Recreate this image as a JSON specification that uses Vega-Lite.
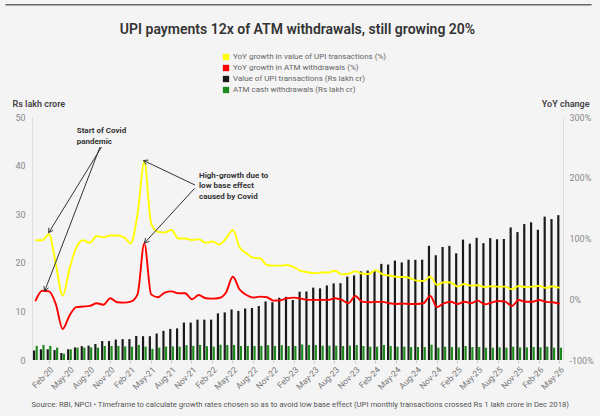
{
  "$schema": "https://vega.github.io/schema/vega-lite/v6.json",
  "width": 531,
  "height": 243,
  "autosize": {"type": "none"},
  "padding": {"left": 32, "top": 117, "right": 37, "bottom": 56},
  "background": "#f4f4f4",
  "title": {"text": "UPI payments 12x of ATM withdrawals, still growing 20%", "anchor": "middle", "frame": "group", "fontSize": 14, "font": "Roboto", "fontWeight": 600, "color": "#333333", "offset": -33},
  "config": {"view": {"stroke": null}, "font": "Roboto", "axis": {"grid": false}},
  "datasets": {
    "months": [
      {"m": "Dec-19", "upi": 1.95, "atm": 2.9, "upiYoY": 97, "atmYoY": -3},
      {"m": "Jan-20", "upi": 2.2, "atm": 3.1, "upiYoY": 97, "atmYoY": 14},
      {"m": "Feb-20", "upi": 2.2, "atm": 2.9, "upiYoY": 107, "atmYoY": 13},
      {"m": "Mar-20", "upi": 2.06, "atm": 2.55, "upiYoY": 58, "atmYoY": -8},
      {"m": "Apr-20", "upi": 1.45, "atm": 1.3, "upiYoY": 6, "atmYoY": -49},
      {"m": "May-20", "upi": 2.2, "atm": 2.2, "upiYoY": 50, "atmYoY": -27},
      {"m": "Jun-20", "upi": 2.6, "atm": 2.55, "upiYoY": 85, "atmYoY": -13},
      {"m": "Jul-20", "upi": 2.85, "atm": 2.55, "upiYoY": 97, "atmYoY": -12},
      {"m": "Aug-20", "upi": 2.95, "atm": 2.6, "upiYoY": 93, "atmYoY": -11},
      {"m": "Sep-20", "upi": 3.3, "atm": 2.55, "upiYoY": 104, "atmYoY": -6.6},
      {"m": "Oct-20", "upi": 3.9, "atm": 2.9, "upiYoY": 102, "atmYoY": -9},
      {"m": "Nov-20", "upi": 3.9, "atm": 2.9, "upiYoY": 105, "atmYoY": 1.6},
      {"m": "Dec-20", "upi": 4.2, "atm": 2.9, "upiYoY": 105, "atmYoY": -5},
      {"m": "Jan-21", "upi": 4.3, "atm": 2.8, "upiYoY": 102, "atmYoY": -5.5},
      {"m": "Feb-21", "upi": 4.3, "atm": 2.75, "upiYoY": 92, "atmYoY": -4},
      {"m": "Mar-21", "upi": 4.95, "atm": 3.1, "upiYoY": 140, "atmYoY": 8},
      {"m": "Apr-21", "upi": 4.9, "atm": 2.75, "upiYoY": 226, "atmYoY": 92},
      {"m": "May-21", "upi": 4.9, "atm": 2.3, "upiYoY": 125, "atmYoY": 8},
      {"m": "Jun-21", "upi": 5.45, "atm": 2.55, "upiYoY": 111, "atmYoY": 3.3},
      {"m": "Jul-21", "upi": 6.0, "atm": 2.75, "upiYoY": 110, "atmYoY": 11},
      {"m": "Aug-21", "upi": 6.4, "atm": 2.8, "upiYoY": 114, "atmYoY": 13},
      {"m": "Sep-21", "upi": 6.5, "atm": 2.75, "upiYoY": 100, "atmYoY": 10},
      {"m": "Oct-21", "upi": 7.7, "atm": 3.05, "upiYoY": 100, "atmYoY": 10},
      {"m": "Nov-21", "upi": 7.7, "atm": 2.9, "upiYoY": 97.5, "atmYoY": 0},
      {"m": "Dec-21", "upi": 8.3, "atm": 3.1, "upiYoY": 99, "atmYoY": 7},
      {"m": "Jan-22", "upi": 8.3, "atm": 2.85, "upiYoY": 93, "atmYoY": 1.6},
      {"m": "Feb-22", "upi": 8.3, "atm": 2.75, "upiYoY": 95, "atmYoY": 1},
      {"m": "Mar-22", "upi": 9.6, "atm": 3.15, "upiYoY": 90, "atmYoY": 2},
      {"m": "Apr-22", "upi": 9.8, "atm": 3.1, "upiYoY": 100, "atmYoY": 11},
      {"m": "May-22", "upi": 10.4, "atm": 3.1, "upiYoY": 114, "atmYoY": 37},
      {"m": "Jun-22", "upi": 10.1, "atm": 2.9, "upiYoY": 85.5, "atmYoY": 16},
      {"m": "Jul-22", "upi": 10.6, "atm": 2.9, "upiYoY": 75.6, "atmYoY": 7},
      {"m": "Aug-22", "upi": 10.7, "atm": 2.9, "upiYoY": 68.5, "atmYoY": 2.7},
      {"m": "Sep-22", "upi": 11.1, "atm": 2.9, "upiYoY": 67.4, "atmYoY": 4.4},
      {"m": "Oct-22", "upi": 12.05, "atm": 3.05, "upiYoY": 56.4, "atmYoY": 3.3},
      {"m": "Nov-22", "upi": 11.9, "atm": 2.9, "upiYoY": 55.3, "atmYoY": -2.2},
      {"m": "Dec-22", "upi": 12.8, "atm": 3.05, "upiYoY": 55.3, "atmYoY": -1.6},
      {"m": "Jan-23", "upi": 13.0, "atm": 2.9, "upiYoY": 56.4, "atmYoY": 1.6},
      {"m": "Feb-23", "upi": 12.35, "atm": 2.9, "upiYoY": 52.6, "atmYoY": 2.7},
      {"m": "Mar-23", "upi": 14.05, "atm": 3.2, "upiYoY": 46.5, "atmYoY": 1},
      {"m": "Apr-23", "upi": 14.1, "atm": 3.1, "upiYoY": 44.4, "atmYoY": -1},
      {"m": "May-23", "upi": 14.89, "atm": 3.09, "upiYoY": 43, "atmYoY": -1},
      {"m": "Jun-23", "upi": 14.75, "atm": 2.95, "upiYoY": 44, "atmYoY": -1},
      {"m": "Jul-23", "upi": 15.34, "atm": 2.95, "upiYoY": 44, "atmYoY": -1},
      {"m": "Aug-23", "upi": 15.76, "atm": 2.95, "upiYoY": 47, "atmYoY": 1.6},
      {"m": "Sep-23", "upi": 15.8, "atm": 2.88, "upiYoY": 41, "atmYoY": -1},
      {"m": "Oct-23", "upi": 17.16, "atm": 2.95, "upiYoY": 42, "atmYoY": -6.6},
      {"m": "Nov-23", "upi": 17.4, "atm": 3.09, "upiYoY": 46, "atmYoY": 5.4},
      {"m": "Dec-23", "upi": 18.23, "atm": 2.88, "upiYoY": 42, "atmYoY": -4},
      {"m": "Jan-24", "upi": 18.41, "atm": 2.74, "upiYoY": 41.6, "atmYoY": -5},
      {"m": "Feb-24", "upi": 18.28, "atm": 2.74, "upiYoY": 48, "atmYoY": -4.4},
      {"m": "Mar-24", "upi": 19.78, "atm": 3.09, "upiYoY": 41, "atmYoY": -4.4},
      {"m": "Apr-24", "upi": 19.64, "atm": 2.88, "upiYoY": 39, "atmYoY": -6.6},
      {"m": "May-24", "upi": 20.45, "atm": 2.74, "upiYoY": 37, "atmYoY": -7.7},
      {"m": "Jun-24", "upi": 20.07, "atm": 2.74, "upiYoY": 36.7, "atmYoY": -7.2},
      {"m": "Jul-24", "upi": 20.64, "atm": 2.67, "upiYoY": 35, "atmYoY": -7.7},
      {"m": "Aug-24", "upi": 20.61, "atm": 2.67, "upiYoY": 30.6, "atmYoY": -7.7},
      {"m": "Sep-24", "upi": 20.64, "atm": 2.67, "upiYoY": 30, "atmYoY": -6.6},
      {"m": "Oct-24", "upi": 23.5, "atm": 3.16, "upiYoY": 37, "atmYoY": 5.4},
      {"m": "Nov-24", "upi": 21.55, "atm": 2.54, "upiYoY": 23.5, "atmYoY": -13},
      {"m": "Dec-24", "upi": 23.25, "atm": 2.74, "upiYoY": 28, "atmYoY": -6.6},
      {"m": "Jan-25", "upi": 23.48, "atm": 2.67, "upiYoY": 27.5, "atmYoY": -4},
      {"m": "Feb-25", "upi": 21.96, "atm": 2.6, "upiYoY": 20.8, "atmYoY": -7.7},
      {"m": "Mar-25", "upi": 24.77, "atm": 2.88, "upiYoY": 25.2, "atmYoY": -4},
      {"m": "Apr-25", "upi": 23.95, "atm": 2.67, "upiYoY": 22.4, "atmYoY": -6.6},
      {"m": "May-25", "upi": 25.14, "atm": 2.67, "upiYoY": 23, "atmYoY": -2.2},
      {"m": "Jun-25", "upi": 24.04, "atm": 2.54, "upiYoY": 20.2, "atmYoY": -8.3},
      {"m": "Jul-25", "upi": 25.08, "atm": 2.54, "upiYoY": 21.4, "atmYoY": -5.5},
      {"m": "Aug-25", "upi": 24.85, "atm": 2.6, "upiYoY": 20.8, "atmYoY": -2.8},
      {"m": "Sep-25", "upi": 24.9, "atm": 2.54, "upiYoY": 20.8, "atmYoY": -4},
      {"m": "Oct-25", "upi": 27.28, "atm": 2.74, "upiYoY": 16.4, "atmYoY": -11},
      {"m": "Nov-25", "upi": 26.32, "atm": 2.6, "upiYoY": 21.9, "atmYoY": -1.2},
      {"m": "Dec-25", "upi": 27.97, "atm": 2.6, "upiYoY": 20.2, "atmYoY": -4},
      {"m": "Jan-26", "upi": 28.33, "atm": 2.67, "upiYoY": 20.8, "atmYoY": -4},
      {"m": "Feb-26", "upi": 26.8, "atm": 2.6, "upiYoY": 21.9, "atmYoY": -1.2},
      {"m": "Mar-26", "upi": 29.5, "atm": 2.74, "upiYoY": 18.6, "atmYoY": -4.4},
      {"m": "Apr-26", "upi": 29.0, "atm": 2.54, "upiYoY": 21.4, "atmYoY": -5},
      {"m": "May-26", "upi": 29.8, "atm": 2.54, "upiYoY": 18.6, "atmYoY": -7.7}
    ],
    "arrows": [
      {"x": 10.21, "y": 43.83, "x2": 2.453, "y2": 26.19},
      {"x": 2.453, "y": 26.19, "x2": 3.099, "y2": 26.69},
      {"x": 2.453, "y": 26.19, "x2": 2.474, "y2": 27.22},
      {"x": 9.988, "y": 43.83, "x2": 1.865, "y2": 14.2},
      {"x": 1.865, "y": 14.2, "x2": 2.435, "y2": 14.85},
      {"x": 1.865, "y": 14.2, "x2": 1.751, "y2": 15.21},
      {"x": 23.94, "y": 36.01, "x2": 16.38, "y2": 41.05},
      {"x": 16.38, "y": 41.05, "x2": 16.79, "y2": 40.2},
      {"x": 16.38, "y": 41.05, "x2": 17.11, "y2": 41.13},
      {"x": 23.87, "y": 35.29, "x2": 16.52, "y2": 24.07},
      {"x": 16.52, "y": 24.07, "x2": 17.23, "y2": 24.38},
      {"x": 16.52, "y": 24.07, "x2": 16.68, "y2": 25.08}
    ],
    "border": [
      {"x": -3.9, "x2": 82.2, "y": 73.1}
    ],
    "notes": [
      {"x": 6.57, "y": 47.9, "t": "Start of Covid\npandemic"},
      {"x": 24.53, "y": 38.68, "t": "High-growth due to\nlow base effect\ncaused by Covid"}
    ]
  },
  "layer": [
    {
      "data": {"name": "months"},
      "layer": [
        {
          "transform": [{"fold": ["upi", "atm"], "as": ["s", "v"]}],
          "mark": {"type": "bar"},
          "encoding": {
            "x": {
              "field": "m", "type": "ordinal", "sort": null,
              "scale": {"paddingInner": 0.3, "paddingOuter": 0.15},
              "axis": {
                "values": ["Feb-20","May-20","Aug-20","Nov-20","Feb-21","May-21","Aug-21","Nov-21","Feb-22","May-22","Aug-22","Nov-22","Feb-23","May-23","Aug-23","Nov-23","Feb-24","May-24","Aug-24","Nov-24","Feb-25","May-25","Aug-25","Nov-25","Feb-26","May-26"],
                "labelAngle": -45, "labelFontSize": 8.5, "labelColor": "#777777", "labelPadding": 2,
                "tickSize": 3, "tickColor": "#cccccc", "domain": false,
                "title": "Source: RBI, NPCI • Timeframe to calculate growth rates chosen so as to avoid low base effect (UPI monthly transactions crossed Rs 1 lakh crore in Dec 2018)",
                "titleX": -1, "titleY": 44, "titleAlign": "left", "titleAnchor": "start", "titleBaseline": "middle", "titleLimit": 600,
                "titleFontSize": 7.7, "titleFontWeight": "normal", "titleColor": "#555555"
              }
            },
            "xOffset": {"field": "s", "sort": ["upi", "atm"], "scale": {"paddingInner": 0.15}},
            "y": {
              "field": "v", "type": "quantitative",
              "scale": {"domain": [0, 50], "nice": false},
              "axis": {
                "values": [0, 10, 20, 30, 40, 50], "ticks": false, "labelPadding": 7,
                "labelColor": "#888888", "labelFontSize": 9, "domainColor": "#dddddd",
                "title": "Rs lakh crore", "titleAngle": 0, "titleAlign": "left", "titleBaseline": "middle",
                "titleX": -20, "titleY": -14, "titleFontSize": 9, "titleFontWeight": 600, "titleColor": "#444444"
              }
            },
            "color": {
              "field": "s", "type": "nominal",
              "scale": {"domain": ["upiYoY", "atmYoY", "upi", "atm"], "range": ["#ffff00", "#ff0000", "#1a1a1a", "#1e8a1e"]},
              "legend": {
                "orient": "none", "legendX": 190, "legendY": -64, "direction": "vertical", "title": null,
                "symbolType": "square", "symbolSize": 40, "symbolStrokeWidth": 0,
                "labelFontSize": 8, "labelColor": "#666666", "rowPadding": 3, "labelOffset": 3, "labelLimit": 400, "padding": 0,
                "labelExpr": "datum.value == 'upiYoY' ? 'YoY growth in value of UPI transactions (%)' : datum.value == 'atmYoY' ? 'YoY growth in ATM withdrawals (%)' : datum.value == 'upi' ? 'Value of UPI transactions (Rs lakh cr)' : 'ATM cash withdrawals (Rs lakh cr)'",
                "encode": {"symbols": {"update": {"fill": {"scale": "color", "field": "value"}, "stroke": {"value": "transparent"}, "opacity": {"value": 1}}}}
              }
            }
          }
        },
        {
          "transform": [{"fold": ["upiYoY", "atmYoY"], "as": ["s", "v"]}],
          "mark": {"type": "line", "interpolate": "monotone", "strokeWidth": 1.9},
          "encoding": {
            "x": {"field": "m", "type": "ordinal", "sort": null},
            "y": {
              "field": "v", "type": "quantitative",
              "scale": {"domain": [-100, 300], "nice": false},
              "axis": {
                "orient": "right", "values": [-100, 0, 100, 200, 300], "ticks": false, "labelPadding": 6,
                "labelExpr": "datum.value + '%'",
                "labelColor": "#888888", "labelFontSize": 9, "domainColor": "#dddddd",
                "title": "YoY change", "titleAngle": 0, "titleAlign": "right", "titleBaseline": "middle",
                "titleX": 26, "titleY": -14, "titleFontSize": 9, "titleFontWeight": 600, "titleColor": "#444444"
              }
            },
            "color": {"field": "s", "type": "nominal"}
          }
        }
      ],
      "resolve": {"scale": {"y": "independent"}}
    },
    {
      "data": {"name": "arrows"},
      "mark": {"type": "rule", "stroke": "#333333", "strokeWidth": 1},
      "encoding": {
        "x": {"field": "x", "type": "quantitative", "scale": {"domain": [0, 78], "nice": false, "zero": false}, "axis": null},
        "x2": {"field": "x2"},
        "y": {"field": "y", "type": "quantitative", "scale": {"domain": [0, 50], "nice": false, "zero": false}, "axis": null},
        "y2": {"field": "y2"}
      }
    },
    {
      "data": {"name": "border"},
      "mark": {"type": "rule", "stroke": "#666666", "strokeWidth": 1.5},
      "encoding": {
        "x": {"field": "x", "type": "quantitative", "scale": {"domain": [0, 78], "nice": false, "zero": false}, "axis": null},
        "x2": {"field": "x2"},
        "y": {"field": "y", "type": "quantitative", "scale": {"domain": [0, 50], "nice": false, "zero": false}, "axis": null}
      }
    },
    {
      "data": {"name": "notes"},
      "mark": {"type": "text", "align": "left", "baseline": "top", "lineBreak": "\n", "fontSize": 8, "fontWeight": "bold", "color": "#333333", "lineHeight": 10.3},
      "encoding": {
        "x": {"field": "x", "type": "quantitative", "scale": {"domain": [0, 78], "nice": false, "zero": false}, "axis": null},
        "y": {"field": "y", "type": "quantitative", "scale": {"domain": [0, 50], "nice": false, "zero": false}, "axis": null},
        "text": {"field": "t"}
      }
    }
  ],
  "resolve": {"scale": {"x": "independent", "y": "independent"}}
}
